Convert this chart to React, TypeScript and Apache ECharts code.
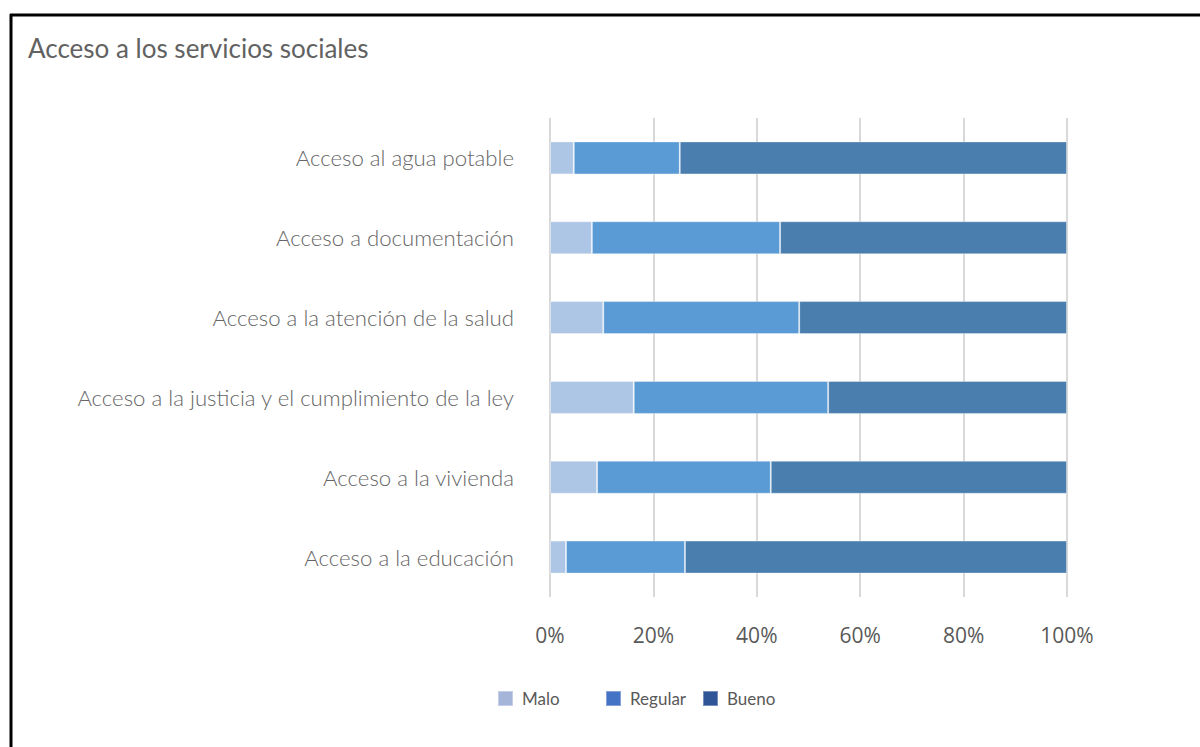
import React, { useEffect, useRef } from "react";
import * as echarts from "echarts";

const categories = [
  "Acceso a la educación",
  "Acceso a la vivienda",
  "Acceso a la justicia y el cumplimiento de la ley",
  "Acceso a la atención de la salud",
  "Acceso a documentación",
  "Acceso al agua potable",
];
const malo = [3.1, 9.1, 16.2, 10.3, 8.1, 4.6];
const regular = [23.0, 33.6, 37.6, 37.9, 36.4, 20.5];
const bueno = [73.9, 57.3, 46.2, 51.8, 55.5, 74.9];
const xTicks = [0, 20, 40, 60, 80, 100];

const seriesNames = ["Malo", "Regular", "Bueno"];
const barColors = ["#AEC6E6", "#5B9BD5", "#4A7EAF"];
const legendColors = ["#A5B5DA", "#4472C4", "#2F5597"];
const legendLefts = [497, 605, 702];

export default function App() {
  const ref = useRef<HTMLDivElement>(null);
  useEffect(() => {
    if (!ref.current) return;
    const chart = echarts.init(ref.current, undefined, { renderer: "svg" });
    const values = [malo, regular, bueno];
    chart.setOption({
      animation: false,
      backgroundColor: "#ffffff",
      textStyle: { fontFamily: "Lato" },
      title: {
        text: "Acceso a los servicios sociales",
        left: 23,
        top: 30,
        textStyle: { fontFamily: "Lato", fontSize: 26, fontWeight: "normal", color: "#626262" },
      },
      graphic: [
        { type: "line", shape: { x1: 10, y1: 15, x2: 1200, y2: 15 }, style: { stroke: "#000", lineWidth: 3 } },
        { type: "line", shape: { x1: 11, y1: 14, x2: 11, y2: 747 }, style: { stroke: "#000", lineWidth: 3 } },
      ],
      legend: seriesNames.map((n, i) => ({
        top: 690,
        left: legendLefts[i],
        padding: 0,
        itemWidth: 15,
        itemHeight: 15,
        icon: "rect",
        textStyle: { fontFamily: "Lato", fontSize: 17, color: "#595959", padding: [0, 0, 0, 4] },
        data: [{ name: n, itemStyle: { color: legendColors[i] } }],
      })),
      grid: { left: 550, right: 133, top: 118, bottom: 150 },
      xAxis: {
        type: "value",
        min: 0,
        max: 100,
        interval: 20,
        axisLine: { show: false },
        axisTick: { show: false },
        splitLine: { lineStyle: { color: "#D9D9D9", width: 2 } },
        axisLabel: {
          margin: 27,
          fontFamily: "Open Sans",
          fontSize: 21,
          color: "#595959",
          formatter: (v: number) => (xTicks.includes(v) ? v + "%" : ""),
        },
      },
      yAxis: {
        type: "category",
        data: categories,
        axisLine: { show: false },
        axisTick: { show: false },
        axisLabel: { margin: 36, fontFamily: "Lato", fontSize: 22.2, fontWeight: 300, color: "#666666" },
      },
      series: seriesNames.map((n, i) => ({
        name: n,
        type: "bar",
        stack: "total",
        barWidth: 33,
        data: values[i],
        itemStyle: { color: barColors[i], borderColor: "rgba(255,255,255,0.35)", borderWidth: 1 },
      })),
    });
    return () => chart.dispose();
  }, []);
  return (
    <div
      ref={ref}
      style={{ position: "absolute", left: 0, top: 0, width: 1200, height: 747 }}
    />
  );
}
